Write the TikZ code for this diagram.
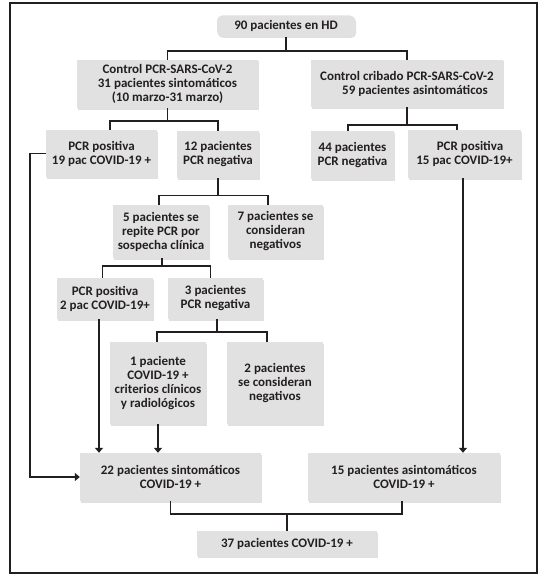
\documentclass[tikz,border=0pt]{standalone}
\usepackage{fontspec}
\setmainfont{Carlito}[BoldFont={* Bold}]
\usetikzlibrary{arrows.meta,shadows}
\definecolor{boxgray}{HTML}{E1E1E1}
\definecolor{ink}{HTML}{231F20}
\begin{document}
\begin{tikzpicture}[x=1pt,y=-1pt,
  every node/.style={text=ink},
  box/.style={fill=boxgray,draw=none,align=center,inner sep=0pt,
    font=\bfseries\fontsize{13}{14}\selectfont,
    drop shadow={shadow xshift=1.2pt,shadow yshift=-1.5pt,opacity=0.12,fill=black}},
  link/.style={draw=ink,line width=1.1pt},
  arr/.style={link,-{Triangle[width=8pt,length=5pt]}}]
\useasboundingbox (0,0) rectangle (554,578);
\draw[draw=ink,line width=1.4pt] (10,3) rectangle (537,573);

% nodes
\node[box,rounded corners=5pt,minimum width=138pt,minimum height=21pt] (top) at (286,26) {90 pacientes en HD};
\node[box,minimum width=181pt,minimum height=48pt] (ctrl) at (167.5,84) {Control PCR-SARS-CoV-2\\31 pacientes sintomáticos\\(10 marzo-31 marzo)};
\node[box,minimum width=192pt,minimum height=47pt] (crib) at (407,83.5) {Control cribado PCR-SARS-CoV-2\\\hspace*{16pt}59 pacientes asintomáticos};
\node[box,minimum width=111pt,minimum height=47pt] (pos19) at (101.5,153.5) {PCR positiva\\19 pac COVID-19 +};
\node[box,minimum width=82pt,minimum height=47pt] (neg12) at (218,154.5) {12 pacientes\\PCR negativa};
\node[box,minimum width=83pt,minimum height=48pt] (neg44) at (352.5,155) {44 pacientes\\PCR negativa};
\node[box,minimum width=113pt,minimum height=48pt] (pos15) at (464.5,154) {\hspace*{11pt}PCR positiva\\15 pac COVID-19+};
\node[box,minimum width=96pt,minimum height=53pt] (rep5) at (161,231.5) {5 pacientes se\\repite PCR por\\sospecha clínica};
\node[box,minimum width=95pt,minimum height=53pt] (neg7) at (275.5,231.5) {7 pacientes se\\consideran\\negativos};
\node[box,minimum width=96pt,minimum height=41pt] (pos2) at (105,298.5) {PCR positiva\\2 pac COVID-19+};
\node[box,minimum width=95pt,minimum height=41pt] (neg3) at (215.5,298.5) {3 pacientes\\PCR negativa};
\node[box,minimum width=96pt,minimum height=82pt] (one1) at (158,383) {1 paciente\\COVID-19 +\\criterios clínicos\\y radiológicos};
\node[box,minimum width=96pt,minimum height=82pt] (two2) at (275,383) {2 pacientes\\se consideran\\negativos};
\node[box,minimum width=181pt,minimum height=48pt] (s22) at (170.5,477) {22 pacientes sintomáticos\\COVID-19 +};
\node[box,minimum width=192pt,minimum height=48pt] (a15) at (404,477) {15 pacientes asintomáticos\\COVID-19 +};
\node[box,minimum width=180pt,minimum height=25pt] (t37) at (287,543.5) {37 pacientes COVID-19 +};

% junction levels
\coordinate (j1) at (0,51);
\coordinate (j2) at (0,121);
\coordinate (j3) at (0,125);
\coordinate (j4) at (0,195.5);
\coordinate (j5) at (0,266);
\coordinate (j6) at (0,332);
\coordinate (j7) at (0,514);
\coordinate (xl) at (30,0);

% tree connectors
\draw[link] (top.south) -- (top.south |- j1);
\draw[link] (ctrl.north) |- (top.south |- j1) -| (crib.north);

\draw[link] (ctrl.south) -- (ctrl.south |- j2);
\draw[link] ([xshift=8.5pt]pos19.north) |- (neg12.north |- j2) -- (neg12.north);

\draw[link] (crib.south) -- (crib.south |- j3);
\draw[link] ([xshift=-4.5pt]neg44.north) |- ([xshift=-7.5pt]pos15.north |- j3) -- ([xshift=-7.5pt]pos15.north);

\draw[link] (neg12.south) -- (neg12.south |- j4);
\draw[link] ([xshift=-2pt]rep5.north) |- ([xshift=-7.5pt]neg7.north |- j4) -- ([xshift=-7.5pt]neg7.north);

\draw[link] ([xshift=1pt]rep5.south) -- ([xshift=1pt]rep5.south |- j5);
\draw[link] ([xshift=-2.5pt]pos2.north) |- ([xshift=-5pt]neg3.north |- j5) -- ([xshift=-5pt]neg3.north);

\draw[link] ([xshift=1.5pt]neg3.south) -- ([xshift=1.5pt]neg3.south |- j6);
\draw[link] ([xshift=-1pt]one1.north) |- ([xshift=-8pt]two2.north |- j6) -- ([xshift=-8pt]two2.north);

% arrows into summary boxes
\draw[arr] ([xshift=-6pt]pos2.south) -- ([xshift=-6pt]pos2.south |- s22.north);
\draw[arr] (one1.south) -- (one1.south |- s22.north);
\draw[arr] (pos19.west) -- (pos19.west -| xl) |- (s22.west);
\draw[arr] ([xshift=-1.5pt]pos15.south) -- ([xshift=-1.5pt]pos15.south |- a15.north);

% merge to total
\draw[link] (s22.south) |- (j7 -| t37.north) -| ([xshift=-2pt]a15.south);
\draw[link] (j7 -| t37.north) -- (t37.north);
\end{tikzpicture}
\end{document}
